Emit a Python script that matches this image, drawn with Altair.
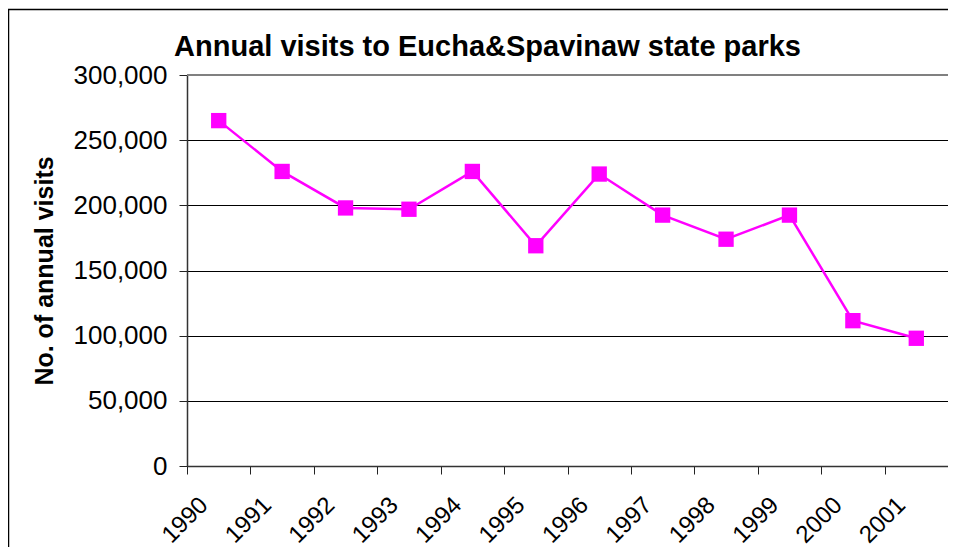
import altair as alt
import pandas as pd

years = ["1990", "1991", "1992", "1993", "1994", "1995",
         "1996", "1997", "1998", "1999", "2000", "2001"]
visits = [265000, 226000, 198000, 197000, 226000, 169000,
          224000, 192500, 174000, 192500, 111500, 98000]
title_text = "Annual visits to Eucha&Spavinaw state parks"
y_title = "No. of annual visits"
y_ticks = [0, 50000, 100000, 150000, 200000, 250000, 300000]

df = pd.DataFrame({"year": years, "visits": visits})
FONT = "Liberation Sans"

x_enc = alt.X(
    "year:O",
    sort=years,
    bandPosition=0.5,
    scale=alt.Scale(type="band", paddingInner=0, paddingOuter=0),
    axis=alt.Axis(
        title=None,
        labelAngle=-45,
        labelAlign="right",
        labelBaseline="middle",
        labelOffset=-15,
        labelPadding=27,
        labelFontSize=24,
        labelFont=FONT,
        labelColor="black",
        tickBand="extent",
        tickSize=8,
        tickColor="#222222",
        domainColor="#333333",
        domainWidth=1.5,
        grid=False,
        labelOverlap=False,
    ),
)
y_enc = alt.Y(
    "visits:Q",
    scale=alt.Scale(domain=[0, 300000], nice=False, zero=True),
    axis=alt.Axis(
        title=y_title,
        titleFont=FONT,
        titleFontSize=25,
        titleFontWeight="bold",
        titleColor="black",
        titleAngle=-90,
        titleBaseline="alphabetic",
        titleAlign="center",
        titleX=-135,
        titleY=195.5,
        values=y_ticks,
        format=",d",
        labelFontSize=26,
        labelFont=FONT,
        labelColor="black",
        labelPadding=12,
        tickSize=8,
        tickColor="#222222",
        domainColor="#333333",
        domainWidth=1.5,
        grid=True,
        gridColor="black",
        gridWidth=1,
    ),
)

one = pd.DataFrame({"a": [0]})

border = alt.Chart(one).mark_rect(
    fillOpacity=0, stroke="black", strokeWidth=1.5, clip=False
).encode(
    x=alt.value(-178.5), x2=alt.value(900),
    y=alt.value(-65.5), y2=alt.value(600),
)

top_edge = alt.Chart(one).mark_rule(color="#808080", strokeWidth=2).encode(
    y=alt.datum(300000)
)

title = alt.Chart(one).mark_text(
    text=title_text, font=FONT, fontSize=29, fontWeight="bold",
    color="black", align="center", baseline="alphabetic", clip=False
).encode(x=alt.value(300.5), y=alt.value(-19))

line = alt.Chart(df).mark_line(color="#FF00FF", strokeWidth=2.5).encode(
    x=x_enc, y=y_enc
)
points = alt.Chart(df).mark_point(
    shape="square", filled=True, size=235, color="#FF00FF", opacity=1
).encode(x=x_enc, y=y_enc)

chart = alt.layer(border, top_edge, title, line, points).properties(
    width=761,
    height=391,
    autosize="none",
    padding={"left": 179, "top": 67, "right": 0, "bottom": 81},
).configure_view(
    stroke="#808080", strokeWidth=2
).configure(background="white")

chart.save("out.html", embed_options={"renderer": "svg", "actions": False})
